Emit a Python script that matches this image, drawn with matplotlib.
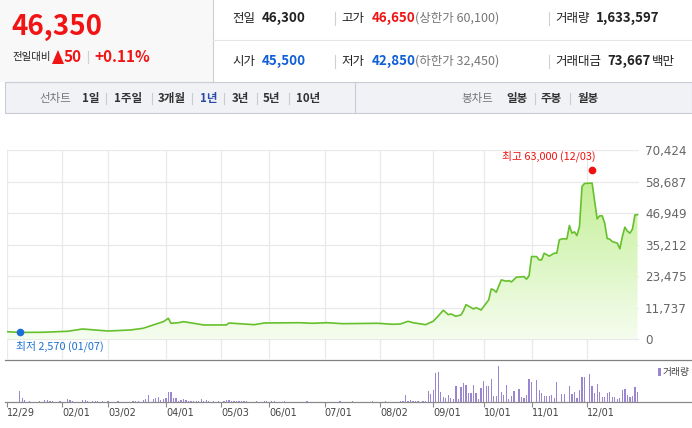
import numpy as np
import matplotlib
matplotlib.use("Agg")
import matplotlib.pyplot as plt
from matplotlib.colors import LinearSegmentedColormap
from matplotlib.patches import Rectangle, Polygon

plt.rcParams['font.family'] = ['Noto Sans CJK KR', 'DejaVu Sans']

# ---- data (x = trading day index from 12/29) ----
days = [0, 5, 14, 24, 30, 40, 49, 54, 60, 62, 64, 65, 68, 70, 74, 78, 87, 88,
        98, 102, 116, 121, 127, 133, 147, 153, 156, 159, 161, 166, 168, 169,
        171, 173, 175, 176, 178, 180, 181, 182, 185, 186, 188, 191, 192, 193,
        194, 196, 198, 199, 200, 202, 205, 206, 207, 208, 210, 211, 212, 213,
        215, 217, 218, 219, 220, 222, 223, 224, 225, 226, 227, 228, 229, 232,
        234, 235, 236, 237, 238, 239, 240, 242, 243, 244, 245, 246, 247, 248,
        249, 250]
close = [2830, 2570, 2610, 2980, 3840, 3090, 3470, 4100, 5960, 6560, 7820,
         5960, 6180, 6560, 5960, 5330, 5330, 6070, 5440, 6070, 6180, 5960,
         6180, 5810, 5960, 5590, 5700, 6700, 6180, 5440, 6330, 6700, 8680,
         10800, 9170, 9430, 8570, 9050, 10660, 12890, 11290, 11770, 10920,
         14640, 18740, 18370, 17510, 22100, 21610, 21830, 21350, 23100, 23320,
         22360, 23590, 30780, 30780, 29550, 29550, 32040, 30930, 32040, 32040,
         37000, 37370, 37370, 42330, 39500, 39980, 38600, 41950, 56860, 57980,
         58130, 44820, 45940, 45940, 43220, 37480, 37260, 36360, 35760, 33650,
         38230, 41730, 40240, 39500, 40990, 46320, 46350]

high_day, high_price = 232, 63000
low_day, low_price = 5, 2570

# volume in thousand shares
vol_days = [5, 6, 7, 9, 13, 15, 16, 17, 18, 21, 24, 25, 26, 30, 31, 32, 34, 35,
            36, 38, 40, 44, 50, 51, 52, 54, 55, 56, 58, 59, 60, 61, 62, 63, 64,
            65, 66, 67, 68, 69, 70, 71, 72, 73, 74, 75, 76, 77, 78, 79, 80, 82,
            84, 86, 87, 88, 89, 90, 91, 92, 93, 94, 95, 99, 102, 103, 105, 106,
            110, 119, 132, 137, 145, 150, 156, 157, 158, 159, 160, 161, 162,
            163, 165, 166, 167, 168, 169, 170, 171, 172, 173, 174, 175, 176,
            177, 178, 179, 180, 181, 182, 183, 184, 185, 186, 187, 188, 189,
            190, 191, 192, 193, 194, 195, 196, 197, 198, 199, 200, 201, 203,
            204, 205, 206, 207, 208, 210, 211, 212, 213, 214, 215, 216, 217,
            218, 220, 221, 223, 224, 225, 226, 227, 228, 229, 231, 232, 233,
            234, 235, 236, 237, 238, 239, 240, 241, 242, 243, 244, 245, 246,
            247, 248, 249, 250]
vol_k = [1840, 600, 330, 160, 160, 330, 330, 160, 160, 160, 490, 330, 210, 330,
         280, 160, 160, 160, 160, 160, 160, 110, 160, 160, 160, 330, 490, 1140,
         490, 600, 770, 330, 440, 700, 1680, 1680, 700, 600, 210, 330, 490, 280,
         160, 160, 160, 160, 160, 490, 210, 330, 160, 160, 160, 160, 280, 330,
         160, 160, 160, 160, 160, 160, 160, 160, 160, 160, 160, 160, 160, 110,
         160, 110, 160, 210, 160, 160, 1140, 160, 330, 160, 160, 160, 160, 160,
         1790, 1300, 1960, 4780, 4890, 1630, 820, 700, 1140, 600, 440, 2610,
         490, 2450, 3150, 2770, 1520, 1520, 2770, 1420, 440, 2230, 3420, 2610,
         2610, 3750, 980, 980, 5870, 1630, 1140, 2770, 490, 980, 1790, 2170,
         820, 700, 1140, 3750, 3260, 3590, 1960, 1520, 980, 1030, 1030, 1140,
         700, 3260, 1350, 1300, 2610, 1300, 1630, 700, 1960, 4080, 4080, 4560,
         2610, 1470, 2930, 1630, 820, 820, 1520, 1630, 770, 860, 490, 700, 1960,
         2120, 1140, 820, 980, 2450, 1630]

tick_days = [0, 22, 40, 63, 85, 104, 126, 148, 169, 189, 208, 230]
tick_labels = ["12/29", "02/01", "03/02", "04/01", "05/03", "06/01", "07/01",
               "08/02", "09/01", "10/01", "11/01", "12/01"]
price_ticks = [0, 11737, 23475, 35212, 46949, 58687, 70424]

RED = "#f01414"
BLUE = "#0f5fd6"
DARK = "#222222"
GRAY = "#777777"

W, H = 692, 428
fig = plt.figure(figsize=(W / 100, H / 100), dpi=100)

# overlay in pixel coordinates for the quote header
ov = fig.add_axes([0, 0, 1, 1])
ov.set_xlim(0, W)
ov.set_ylim(H, 0)
ov.axis("off")


def txt(x, y, s, size, color=DARK, weight="normal", **kw):
    ov.text(x, y, s, fontsize=size, color=color, weight=weight,
            ha="left", va="center", **kw)


def vbar(x, y0, y1, color="#d0d0d0"):
    ov.plot([x, x], [y0, y1], color=color, lw=0.8)


ov.add_patch(Rectangle((0, 0), 213, 82, fc="#f8f8f8", ec="none"))
ov.plot([213, 213], [0, 82], color="#cfcfcf", lw=0.8)
ov.plot([213, W], [40, 40], color="#e6e6e6", lw=0.8)

txt(11, 27, "46,350", 20, RED, "bold")
txt(12, 57, "전일대비", 7.5, DARK)
ov.add_patch(Polygon([[52, 64], [64, 64], [58, 50]], closed=True,
                     fc=RED, ec="none"))
txt(64, 57, "50", 11, RED, "bold")
vbar(88, 51, 63)
txt(94, 57, "+0.11%", 11, RED, "bold")

# header row 1
txt(232, 18, "전일", 9, DARK)
txt(262, 18, "46,300", 9.6, DARK, "bold")
vbar(335, 12, 25)
txt(341, 18, "고가", 9, DARK)
txt(372, 18, "46,650", 9.6, RED, "bold")
txt(415, 18, "(상한가 60,100)", 9, GRAY)
vbar(549, 12, 25)
txt(555, 18, "거래량", 9, DARK)
txt(596, 18, "1,633,597", 9.6, DARK, "bold")
# header row 2
txt(232, 61, "시가", 9, DARK)
txt(262, 61, "45,500", 9.6, BLUE, "bold")
vbar(335, 55, 68)
txt(341, 61, "저가", 9, DARK)
txt(372, 61, "42,850", 9.6, BLUE, "bold")
txt(415, 61, "(하한가 32,450)", 9, GRAY)
vbar(549, 55, 68)
txt(555, 61, "거래대금", 9, DARK)
txt(607, 61, "73,667", 9.6, DARK, "bold")
txt(652, 61, "백만", 9, DARK)

# toolbar
ov.add_patch(Rectangle((5, 82), W - 5, 31, fc="#f1f2f6", ec="#c9ccd3", lw=0.8))
ov.plot([355, 355], [82, 113], color="#c9ccd3", lw=0.8)
txt(39, 98, "선차트", 8.3, GRAY)
left_items = [(82, "1일"), (114, "1주일"), (158, "3개월"), (200, "1년"),
              (232, "3년"), (263, "5년"), (296, "10년")]
for x, s in left_items:
    txt(x, 98, s, 8.3, "#2a4ca8" if s == "1년" else "#333333", "bold")
for x in [106, 152, 192, 224, 257, 289]:
    vbar(x, 93, 104, "#cccccc")
txt(461, 98, "봉차트", 8.3, GRAY)
for x, s in [(506, "일봉"), (541, "주봉"), (578, "월봉")]:
    txt(x, 98, s, 8.3, "#333333", "bold")
for x in [535, 570]:
    vbar(x, 93, 104, "#cccccc")

# panel separators
ov.plot([5, W], [359.5, 359.5], color="#808080", lw=0.9)
ov.plot([5, W], [402, 402], color="#8a8a8a", lw=0.9)

# ---- price panel ----
x0, x1 = 7, 639
top, bot = 149.5, 359.3
zero_px = 339.3
per_px = 70424 / (zero_px - 150)
xmax = 250.6

ax = fig.add_axes([x0 / W, 1 - bot / H, (x1 - x0) / W, (bot - top) / H])
ax.patch.set_alpha(0)
for s in ax.spines.values():
    s.set_visible(False)

grad = LinearSegmentedColormap.from_list("g", ["#f5fdef", "#c3ef96"])
im = ax.imshow(np.linspace(0, 1, 256).reshape(-1, 1), cmap=grad,
               origin="lower", aspect="auto",
               extent=[0, xmax, 0, max(close)], zorder=1)
fill = ax.fill_between(days, close, 0, color="none", lw=0)
im.set_clip_path(fill.get_paths()[0], ax.transData)
ax.plot(days, close, color="#66c02c", lw=1.2, zorder=3)

ax.plot(high_day, high_price, "o", color="#f01010", ms=4.5, zorder=4)
ax.annotate("최고 63,000 (12/03)", (high_day, high_price),
            xytext=(2.5, 10), textcoords="offset points",
            ha="right", va="center", fontsize=7.8, color="#f01010")
ax.plot(low_day, low_price, "o", color="#1b6fd6", ms=4.5, zorder=4)
ax.annotate("최저 2,570 (01/07)", (low_day, low_price),
            xytext=(-2.3, -10), textcoords="offset points",
            ha="left", va="center", fontsize=7.8, color="#1b6fd6")

ax.set_xlim(0, xmax)
ax.set_ylim(-(bot - zero_px) * per_px, 70424 + (150 - top) * per_px)
ax.set_xticks(tick_days)
ax.set_yticks(price_ticks)
ax.set_yticklabels([f"{v:,}" for v in price_ticks], family="DejaVu Sans",
                   fontsize=8.6, color="#666666")
ax.yaxis.tick_right()
ax.tick_params(axis="y", length=0, pad=4.3)
ax.tick_params(axis="x", length=0, labelbottom=False)
ax.grid(True, color="#e9e9e9", lw=0.9, zorder=0)
ax.set_axisbelow(True)

# ---- volume panel ----
vtop, vbot = 360.5, 402
vax = fig.add_axes([x0 / W, 1 - vbot / H, (x1 - x0) / W, (vbot - vtop) / H])
vax.patch.set_alpha(0)
for s in vax.spines.values():
    s.set_visible(False)
vax.bar(vol_days, vol_k, width=0.5, color="#9a85cf", lw=0)
vax.set_xlim(0, xmax)
vax.set_ylim(0, (vbot - vtop) * 163)
vax.set_yticks([])
vax.set_xticks(tick_days)
vax.set_xticklabels(tick_labels, family="DejaVu Sans", fontsize=7,
                    color="#444444")
for lbl in vax.get_xticklabels():
    lbl.set_ha("left")
vax.tick_params(axis="x", length=3.6, width=0.8, color="#8a8a8a", pad=0.6)

ov.add_patch(Rectangle((657.7, 368), 3.3, 7.7, fc="#9a85cf", ec="none"))
txt(662.5, 372, "거래량", 7, "#444444")

fig.savefig("out.png", dpi=100)
